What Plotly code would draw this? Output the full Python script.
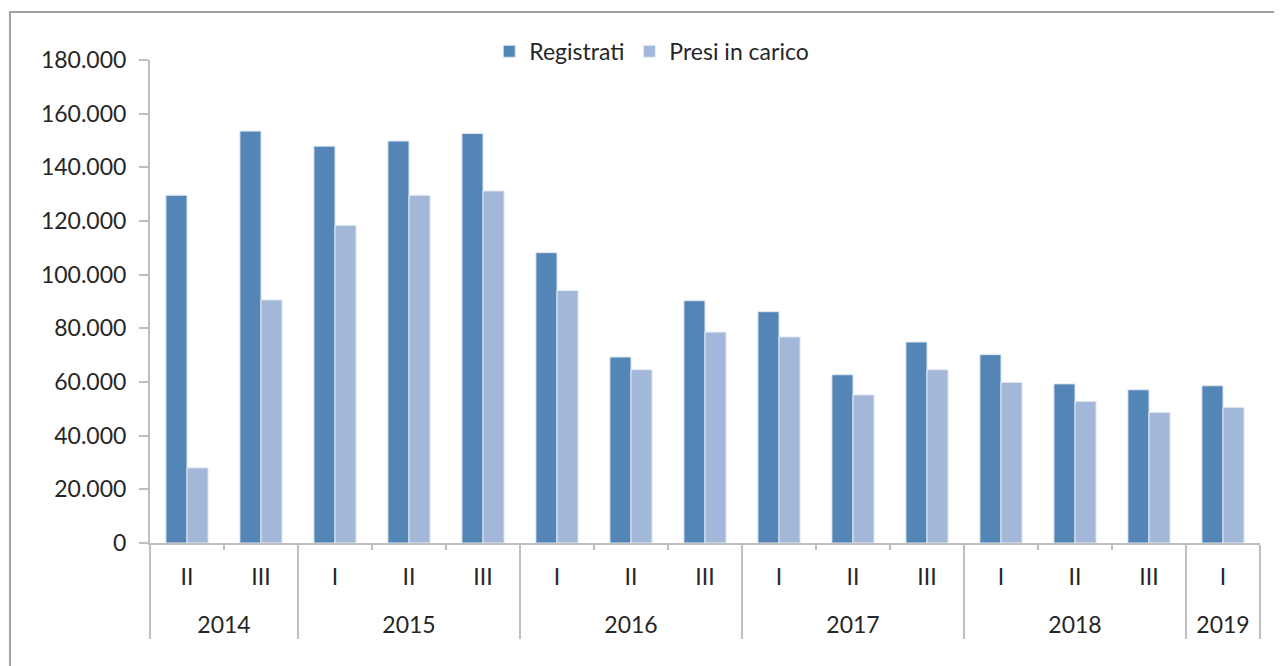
import plotly.graph_objects as go

# categories (year, quarter)
years = ["2014", "2014", "2015", "2015", "2015", "2016", "2016", "2016",
         "2017", "2017", "2017", "2018", "2018", "2018", "2019"]
quarters = ["II", "III", "I", "II", "III", "I", "II", "III",
            "I", "II", "III", "I", "II", "III", "I"]

registrati = [129600, 153500, 147900, 149800, 152600, 108200, 69300, 90300,
              86200, 62700, 74900, 70200, 59300, 57100, 58600]
presi = [28000, 90600, 118400, 129600, 131200, 94100, 64600, 78600,
         76800, 55200, 64600, 59900, 52800, 48700, 50600]

y_ticks = [0, 20000, 40000, 60000, 80000, 100000, 120000, 140000, 160000, 180000]

font = "Lato, Carlito, Calibri, sans-serif"
grey = "#bfbfbf"

# year row sits one line lower than the quarter row, as in the Excel chart
year_lbl = ["<br>" + y for y in years]
# plotly orders sub-categories by first appearance; 2014 starts at II, so its
# labels get an invisible zero-width space to keep I, II, III order elsewhere
q_lbl = [q + "\u200b" if y == years[0] else q for y, q in zip(years, quarters)]
x_cats = [year_lbl, q_lbl]

fig = go.Figure()
fig.add_bar(x=x_cats, y=registrati, name="Registrati",
            marker=dict(color="#5385b6", line=dict(color="#dfe7f2", width=1)))
fig.add_bar(x=x_cats, y=presi, name="Presi in carico",
            marker=dict(color="#a3b7d9", line=dict(color="#e6edf6", width=1)))

# page body has an 8px margin, so the margins are shifted by 8px
fig.update_layout(
    width=1282, height=666,
    margin=dict(l=142, r=30, t=52, b=131),
    paper_bgcolor="white", plot_bgcolor="white",
    separators=",.",
    barmode="group", bargap=0.43, bargroupgap=0,
    font=dict(family=font, size=23, color="#262626"),
    showlegend=True,
    legend=dict(orientation="h", x=0.452, xanchor="center", y=1.018, yanchor="middle",
                bgcolor="rgba(0,0,0,0)", font=dict(size=23), traceorder="normal"),
    xaxis=dict(type="multicategory",
               showline=True, linecolor=grey, linewidth=2,
               ticks="outside", tickson="boundaries", tickcolor=grey, tickwidth=2,
               ticklabelstandoff=12,
               showdividers=True, dividercolor=grey, dividerwidth=2,
               showgrid=False, zeroline=False),
    yaxis=dict(range=[0, 180000], tickvals=y_ticks, tickformat=",d",
               showline=True, linecolor=grey, linewidth=2,
               ticks="outside", ticklen=9, tickcolor=grey, tickwidth=2,
               ticklabelstandoff=8,
               showgrid=False, zeroline=False),
)

# outer chart border (Excel chart area)
fig.add_shape(type="rect", xref="paper", yref="paper",
              x0=-0.1261, x1=1.05, y0=-0.35, y1=1.0994,
              line=dict(color="#a0a0a0", width=2), layer="below")

fig.write_html("out.html")
